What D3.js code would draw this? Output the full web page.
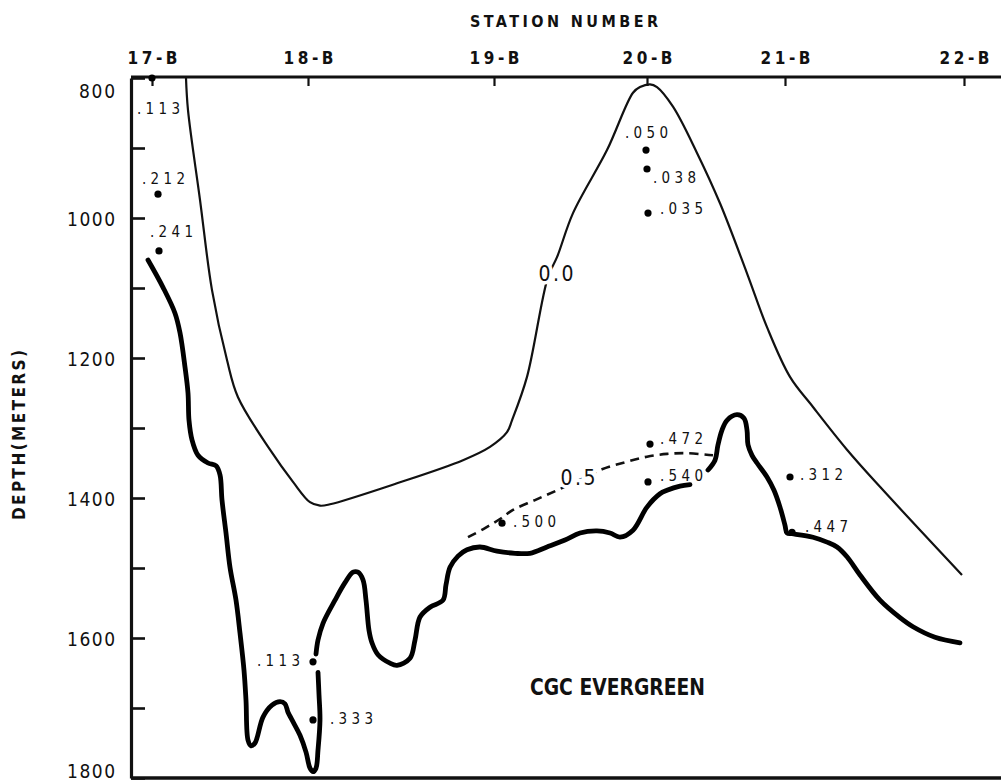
<!DOCTYPE html>
<html><head><meta charset="utf-8">
<script src="https://cdn.jsdelivr.net/npm/d3@7"></script>
<style>
body{margin:0;background:#fff}
svg{display:block}
text{font-family:"DejaVu Sans Condensed","DejaVu Sans",sans-serif;font-stretch:condensed;fill:#111}
</style>
</head><body>
<svg id="c" width="1001" height="782"></svg>
<script>
// ---------------- data ----------------
const stations = ["17-B","18-B","19-B","20-B","21-B","22-B"];
const stationDist = [0, 15.6, 34.2, 49.5, 63.3, 81.2];          // relative distance along section
const depthMajorTicks = [800,1000,1200,1400,1600,1800];
const depthMinorTicks = [900,1100,1300,1500,1700];

// 0.0 contour (thin line)  [distance, depth]
const contour00 = [[3.4,800],[3.6,846],[4.8,974],[6.0,1103],[7.5,1203],[8.6,1256],[11.8,1331],[14.1,1377],
  [15.8,1406],[16.8,1411],[17.8,1409],[24.5,1379],[31.1,1346],[33.8,1327],[35.5,1306],[36.0,1289],[37.5,1227],
  [39.6,1084],[40.5,1056],[42.1,993],[45.5,903],[48.1,821],[48.8,813],[49.8,809],[50.5,813],[52.1,841],
  [54.5,907],[56.8,979],[59.5,1079],[61.5,1156],[63.8,1227],[66.1,1270],[69.5,1331],[72.8,1384],[81.0,1510]];

// bottom (thick line), three pieces
const bottomA = [[-0.4,1060],[1.1,1099],[2.3,1136],[2.8,1164],[3.3,1213],[3.6,1250],[3.7,1289],[4.0,1317],
  [4.6,1339],[5.6,1350],[6.4,1354],[6.8,1367],[7.0,1403],[7.4,1450],[7.8,1499],[8.4,1546],[8.8,1593],
  [9.2,1646],[9.4,1689],[9.6,1746],[9.9,1754],[10.3,1750],[11.1,1713],[12.0,1696],[12.8,1691],[13.3,1694],
  [13.6,1706],[14.0,1717],[14.8,1739],[15.4,1763],[15.8,1786],[16.1,1791],[16.4,1786],[16.6,1760],
  [16.8,1717],[16.7,1681],[16.6,1649]];
const bottomB = [[16.4,1623],[16.6,1603],[17.1,1579],[18.3,1546],[19.3,1521],[20.1,1506],[20.6,1506],
  [21.1,1517],[21.4,1546],[21.7,1589],[22.0,1607],[22.6,1624],[23.8,1636],[24.5,1639],[25.8,1629],
  [26.3,1603],[26.8,1570],[27.8,1556],[29.1,1546],[29.4,1524],[29.8,1499],[30.6,1483],[31.5,1474],
  [32.8,1470],[34.5,1476],[36.3,1479],[37.8,1479],[39.5,1470],[41.3,1460],[42.8,1450],[44.5,1447],
  [45.8,1450],[46.8,1456],[48.1,1446],[49.5,1413],[50.8,1394],[51.5,1389],[52.8,1383],[53.8,1381]];
const bottomC = [[55.6,1360],[56.3,1346],[56.6,1324],[57.0,1303],[57.5,1289],[58.5,1281],[59.2,1286],
  [59.5,1303],[59.6,1324],[60.0,1339],[60.5,1350],[61.5,1370],[62.2,1389],[62.8,1413],[63.3,1439],
  [63.5,1450],[64.0,1451],[66.1,1456],[67.5,1463],[68.5,1470],[69.5,1484],[70.8,1510],[72.8,1546],
  [74.8,1571],[76.1,1584],[78.3,1599],[80.8,1607]];

// 0.5 contour (dashed)
const contour05 = [[31.6,1456],[33.3,1443],[34.8,1430],[36.1,1417],[38.3,1403],[40.5,1389],[42.8,1374],
  [45.0,1359],[47.3,1349],[49.5,1341],[51.5,1337],[53.5,1336],[56.1,1339]];

// observations
const obsDist  = [0, 0.6, 0.7, 49.4, 49.5, 49.6, 49.8, 49.6, 35.0, 63.8, 64.0, 16.1, 16.1];
const obsDepth = [800, 966, 1047, 903, 930, 993, 1323, 1377, 1436, 1370, 1449, 1634, 1717];
const obsValue = [".113",".212",".241",".050",".038",".035",".472",".540",".500",".312",".447",".113",".333"];

// contour labels
const contourLabels = ["0.0","0.5"];
const contourLabelDist = [40.4, 42.6];
const contourLabelDepth = [1079, 1370];

// ---------------- layout (not data) ----------------
const labelOffsets = [[-15,30],[-16,-16],[-9,-19],[-21,-18],[6,8],[12,-5],[10,-6],[12,-6],[11,-2],[10,-3],[13,-6],[-13,-1],[17,-1]];
const labelAnchor = obsValue.map((v,i)=> i===11 ? "end" : "start");
const FONT = '"DejaVu Sans Condensed","DejaVu Sans",sans-serif';

const svg = d3.select("#c");
const x = d3.scaleLinear().domain([0, 81.2]).range([152, 964]);
const y = d3.scaleLinear().domain([800, 1800]).range([78, 778]);
const frameLeft = 131, frameRight = 1001;

// frame lines
svg.append("line").attr("x1",frameLeft).attr("x2",frameRight).attr("y1",y(800)-1).attr("y2",y(800)-1)
  .attr("stroke","#111").attr("stroke-width",3);
svg.append("line").attr("x1",frameLeft).attr("x2",frameRight).attr("y1",y(1800)).attr("y2",y(1800))
  .attr("stroke","#111").attr("stroke-width",3.5);

// left axis
const yAxis = d3.axisLeft(y).tickValues(depthMajorTicks.concat(depthMinorTicks).sort((a,b)=>a-b))
  .tickSizeInner(-14).tickSizeOuter(0).tickPadding(16)
  .tickFormat(d => depthMajorTicks.includes(d) ? d3.format("d")(d) : "");
const gy = svg.append("g").attr("transform",`translate(${frameLeft},0)`).call(yAxis);
gy.select(".domain").attr("stroke","#111").attr("stroke-width",3.2);
gy.selectAll(".tick line").attr("stroke","#111").attr("stroke-width",2.6);
gy.selectAll(".tick text")
  .attr("font-size",19).attr("dy",null)
  .attr("y", d => d===800 ? 12+7 : d===1800 ? -8+7 : 7)
  .attr("textLength", d => d>=1000 ? 48 : 36).attr("lengthAdjust","spacing")
  .style("font-family",FONT).style("fill","#111");

// top axis
const xAxis = d3.axisTop(x).tickValues(stationDist).tickSizeInner(-9).tickSizeOuter(0).tickPadding(13)
  .tickFormat((d,i)=>stations[i]);
const gx = svg.append("g").attr("transform",`translate(0,${y(800)-1})`).call(xAxis);
gx.select(".domain").remove();
gx.selectAll(".tick line").attr("stroke","#111").attr("stroke-width",2.2);
gx.selectAll(".tick text").attr("font-size",17).attr("font-weight","bold").attr("dy",null).attr("y",-13)
  .attr("textLength",50).attr("lengthAdjust","spacing")
  .style("font-family",FONT).style("fill","#111");

// titles
svg.append("text").attr("x",564).attr("y",26.5).attr("text-anchor","middle")
  .attr("font-size",16).attr("font-weight","bold").attr("textLength",188).attr("lengthAdjust","spacing")
  .text("STATION NUMBER");
svg.append("text").attr("transform","translate(25,435) rotate(-90)").attr("text-anchor","middle")
  .attr("font-size",17).attr("font-weight","bold").attr("textLength",170).attr("lengthAdjust","spacing")
  .text("DEPTH(METERS)");

// curves
const line = d3.line().x(d=>x(d[0])).y(d=>y(d[1])).curve(d3.curveCatmullRom.alpha(0.5));
svg.append("path").attr("d",line(contour00)).attr("fill","none").attr("stroke","#111").attr("stroke-width",2.2);
[bottomA,bottomB,bottomC].forEach(seg=>{
  svg.append("path").attr("d",line(seg)).attr("fill","none").attr("stroke","#000")
    .attr("stroke-width",4.8).attr("stroke-linecap","round").attr("stroke-linejoin","round");
});
svg.append("path").attr("d",line(contour05)).attr("fill","none").attr("stroke","#111")
  .attr("stroke-width",2.6).attr("stroke-dasharray","9,6");

// contour labels with white halo (line is broken under them)
svg.selectAll(".clab").data(contourLabels).enter().append("text")
  .attr("x",(d,i)=>x(contourLabelDist[i])).attr("y",(d,i)=>y(contourLabelDepth[i])+7.5)
  .attr("text-anchor","middle").attr("font-size",21).attr("textLength",35).attr("lengthAdjust","spacing")
  .attr("stroke","#fff").attr("stroke-width",7).attr("paint-order","stroke")
  .text(d=>d);

// observation dots
svg.selectAll(".dot").data(obsValue).enter().append("circle")
  .attr("cx",(d,i)=>x(obsDist[i])).attr("cy",(d,i)=>y(obsDepth[i])).attr("r",3.6).attr("fill","#000");
svg.selectAll(".olab").data(obsValue).enter().append("text")
  .attr("x",(d,i)=>x(obsDist[i])+labelOffsets[i][0])
  .attr("y",(d,i)=>y(obsDepth[i])+labelOffsets[i][1]+5.5)
  .attr("text-anchor",(d,i)=>labelAnchor[i])
  .attr("font-size",15).attr("textLength",43).attr("lengthAdjust","spacing")
  .text(d=>d);

// ship name
svg.append("text").attr("x",x(37.8)).attr("y",y(1669)+9).attr("font-size",23).attr("font-weight","bold")
  .attr("textLength",175).attr("lengthAdjust","spacingAndGlyphs").text("CGC EVERGREEN");
</script>
</body></html>
